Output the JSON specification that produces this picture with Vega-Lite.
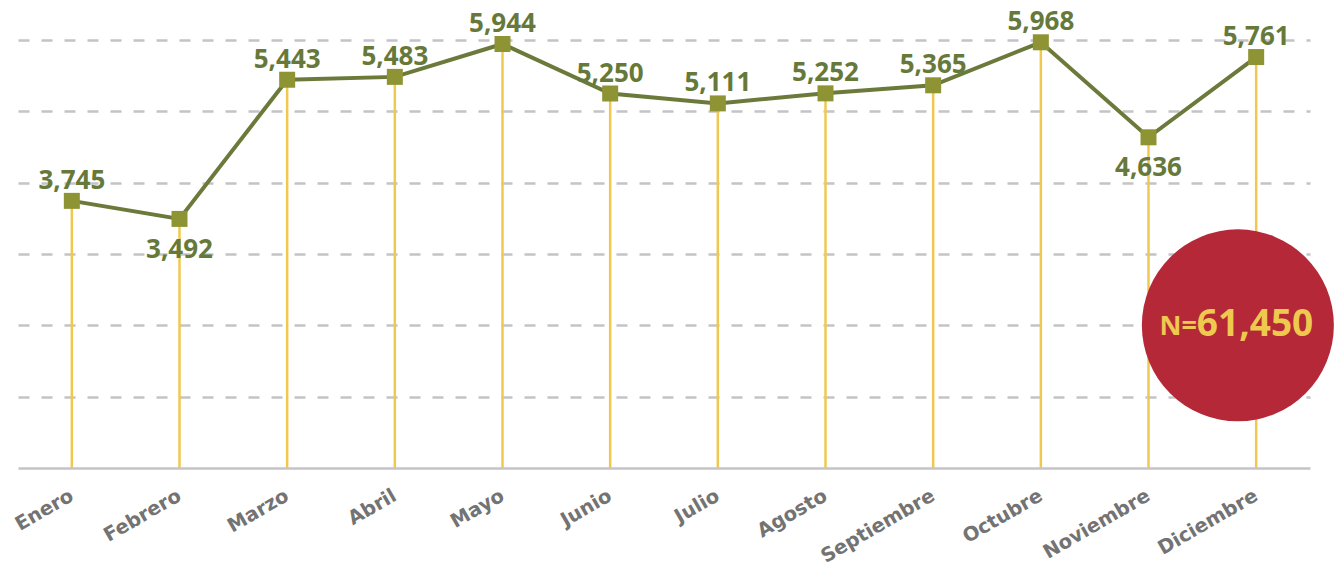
{
  "$schema": "https://vega.github.io/schema/vega-lite/v6.json",
  "width": 1292,
  "height": 428,
  "autosize": {"type": "none"},
  "padding": {"left": 18, "top": 40, "right": 28, "bottom": 103},
  "background": "white",
  "config": {
    "view": {"stroke": null},
    "font": "Open Sans"
  },
  "datasets": {
    "meses": [
      {"mes": "Enero", "valor": 3745},
      {"mes": "Febrero", "valor": 3492},
      {"mes": "Marzo", "valor": 5443},
      {"mes": "Abril", "valor": 5483},
      {"mes": "Mayo", "valor": 5944},
      {"mes": "Junio", "valor": 5250},
      {"mes": "Julio", "valor": 5111},
      {"mes": "Agosto", "valor": 5252},
      {"mes": "Septiembre", "valor": 5365},
      {"mes": "Octubre", "valor": 5968},
      {"mes": "Noviembre", "valor": 4636},
      {"mes": "Diciembre", "valor": 5761}
    ],
    "total": [{"posicion": 11.83, "y": 2000, "n": "N=", "total": "61,450"}]
  },
  "resolve": {"scale": {"x": "independent"}, "axis": {"x": "independent"}},
  "layer": [
    {
      "data": {"name": "meses"},
      "encoding": {
        "x": {
          "field": "mes",
          "type": "ordinal",
          "sort": null,
          "scale": {"type": "point", "padding": 0.5},
          "axis": {
            "title": null,
            "domain": true,
            "domainColor": "#C4C4C8",
            "domainWidth": 2.5,
            "ticks": false,
            "labelAngle": -30,
            "labelFont": "DejaVu Sans",
            "labelFontWeight": "bold",
            "labelFontSize": 19.5,
            "labelColor": "#737373",
            "labelPadding": 18,
            "labelOffset": -5
          }
        }
      },
      "layer": [
        {
          "mark": {"type": "rule", "color": "#F0C850", "strokeWidth": 2.5},
          "encoding": {
            "y": {
              "field": "valor",
              "type": "quantitative",
              "scale": {"domain": [0, 6000]},
              "axis": {
                "title": null,
                "labels": false,
                "ticks": false,
                "domain": false,
                "values": [1000, 2000, 3000, 4000, 5000, 6000],
                "gridColor": "#C4C4C8",
                "gridWidth": 2.5,
                "gridDash": [11, 12]
              }
            },
            "y2": {"datum": 0}
          }
        },
        {
          "mark": {"type": "line", "color": "#6B7A3A", "strokeWidth": 4},
          "encoding": {
            "y": {"field": "valor", "type": "quantitative"}
          }
        },
        {
          "mark": {"type": "square", "color": "#8E9434", "size": 256, "opacity": 1, "filled": true},
          "encoding": {
            "y": {"field": "valor", "type": "quantitative"}
          }
        },
        {
          "transform": [{"filter": "datum.mes != 'Febrero' && datum.mes != 'Noviembre'"}],
          "mark": {"type": "text", "color": "#66793A", "font": "Open Sans", "fontWeight": "bold", "fontSize": 26, "baseline": "alphabetic", "dy": -12},
          "encoding": {
            "y": {"field": "valor", "type": "quantitative"},
            "text": {"field": "valor", "type": "quantitative", "format": ","}
          }
        },
        {
          "transform": [{"filter": "datum.mes == 'Febrero' || datum.mes == 'Noviembre'"}],
          "mark": {"type": "text", "color": "#66793A", "font": "Open Sans", "fontWeight": "bold", "fontSize": 26, "baseline": "alphabetic", "dy": 39},
          "encoding": {
            "y": {"field": "valor", "type": "quantitative"},
            "text": {"field": "valor", "type": "quantitative", "format": ","}
          }
        }
      ]
    },
    {
      "data": {"name": "total"},
      "encoding": {
        "x": {"field": "posicion", "type": "quantitative", "scale": {"domain": [0.5, 12.5], "nice": false, "zero": false}, "axis": null},
        "y": {"field": "y", "type": "quantitative"}
      },
      "layer": [
        {
          "mark": {"type": "circle", "color": "#B52837", "opacity": 1, "size": 36864}
        },
        {
          "mark": {"type": "text", "color": "#EFC850", "font": "Open Sans", "fontWeight": "bold", "fontSize": 27, "align": "right", "baseline": "middle", "dx": -41, "dy": 2},
          "encoding": {"text": {"field": "n"}}
        },
        {
          "mark": {"type": "text", "color": "#EFC850", "font": "Open Sans", "fontWeight": "bold", "fontSize": 37, "align": "left", "baseline": "middle", "dx": -41, "dy": 0},
          "encoding": {"text": {"field": "total"}}
        }
      ]
    }
  ]
}
